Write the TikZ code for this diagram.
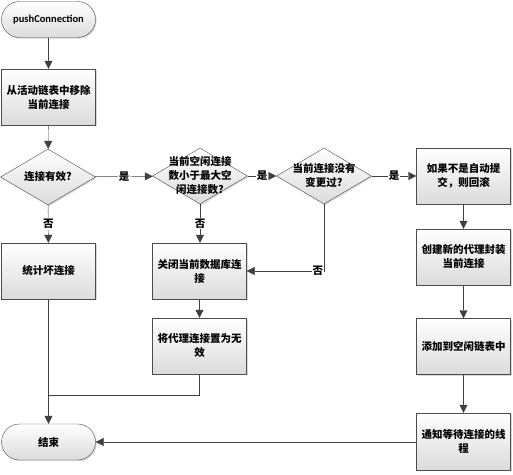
\documentclass[tikz,border=0pt]{standalone}
\usepackage{fontspec}
\setmainfont{Carlito}
\newfontfamily\cjk{Noto Sans CJK SC}
\usetikzlibrary{arrows.meta,shapes.geometric,shadows}

\begin{document}
\begin{tikzpicture}[x=1pt,y=-1pt,
  every node/.style={font=\cjk\bfseries\fontsize{10.5}{14}\selectfont},
  shade/.style={draw=black!70,top color=white,bottom color=black!14,drop shadow={shadow xshift=1.2pt,shadow yshift=-1.2pt,fill=black!25,opacity=0.6}},
  box/.style={shade,minimum width=94pt,minimum height=56pt,align=center,inner sep=1pt},
  term/.style={shade,rounded corners=18pt,minimum width=94pt,minimum height=36pt},
  decide/.style={diamond,shade,minimum width=95pt,minimum height=56pt,inner sep=0pt},
  flow/.style={draw=black!75,-{Triangle[length=8pt,width=8pt]}},
  wire/.style={draw=black!75},
  lbl/.style={fill=white,inner sep=1pt}]
\useasboundingbox (0,0) rectangle (513,474);
% left column
\node[term,font=\rmfamily\bfseries\fontsize{10.5}{13}\selectfont] (start) at (48.5,19.5) {pushConnection};
\node[box] (remove) at (48.5,97) {从活动链表中移除\\当前连接};
\node[decide,label={[align=center]center:连接有效?}] (valid) at (48,177) {};
\node[box] (bad) at (48.5,271) {统计坏连接};
\node[term] (end) at (48.5,442) {结束};
% middle columns
\node[decide,label={[align=center]center:当前空闲连接\\数小于最大空\\闲连接数?}] (idle) at (200,176) {};
\node[box] (close) at (199.5,271) {关闭当前数据库连\\接};
\node[box] (inval) at (199.5,346) {将代理连接置为无\\效};
\node[decide,label={[align=center]center:当前连接没有\\变更过?}] (dirty) at (324,176) {};
% right column
\node[box] (rollback) at (463.5,176) {如果不是自动提\\交，则回滚};
\node[box] (wrap) at (463.5,257) {创建新的代理封装\\当前连接};
\node[box] (addidle) at (463.5,346.5) {添加到空闲链表中};
\node[box,minimum height=57pt] (notify) at (463.5,441.5) {通知等待连接的线\\程};
\coordinate (join) at (48.5,395);

\draw[flow] (start) -- (remove);
\draw[flow] (remove) -- (valid);
\draw[flow] (valid) -- node[lbl]{是} (idle);
\draw[flow] (idle) -- node[lbl]{是} (dirty);
\draw[flow] (dirty) -- node[lbl]{是} (rollback);
\draw[flow] (valid) -- node[lbl]{否} (bad);
\draw[flow] (idle.south) -- node[lbl]{否} (close.north -| idle.south);
\draw[flow] (dirty.south) |- node[lbl,pos=0.54]{否} (close.east);
\draw[flow] (close) -- (inval);
\draw[flow] (rollback) -- (wrap);
\draw[flow] (wrap) -- (addidle);
\draw[flow] (addidle) -- (notify);
\draw[flow] (bad) -- (end);
\draw[wire] (inval.south) |- (join);
\draw[flow] (notify.west |- end) -- (end.east);
\end{tikzpicture}
\end{document}
